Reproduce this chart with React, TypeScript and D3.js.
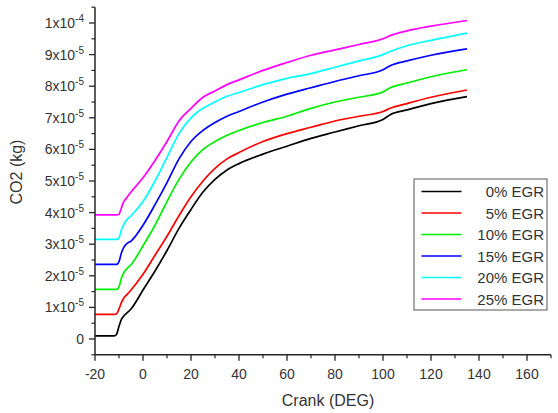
import * as d3 from 'd3';

// values in units of 1e-5 kg
const crank = [-20, -12, -11, -10, -9, -8, -7, -5, 0, 5, 10, 15, 20, 25, 30, 35, 40, 50, 60, 70, 80, 90, 100, 103, 110, 120, 135];
const egr0 = [0.1, 0.1, 0.15, 0.4, 0.62, 0.73, 0.8, 0.95, 1.55, 2.15, 2.8, 3.5, 4.1, 4.65, 5.05, 5.35, 5.55, 5.85, 6.1, 6.35, 6.55, 6.75, 6.95, 7.1, 7.25, 7.45, 7.67];
const egr5 = [0.78, 0.78, 0.8, 0.95, 1.15, 1.3, 1.38, 1.55, 2.05, 2.65, 3.25, 3.9, 4.5, 5.0, 5.4, 5.7, 5.9, 6.25, 6.5, 6.7, 6.9, 7.05, 7.2, 7.3, 7.45, 7.65, 7.88];
const egr10 = [1.57, 1.57, 1.57, 1.65, 1.92, 2.1, 2.2, 2.35, 2.95, 3.6, 4.35, 5.05, 5.6, 6.0, 6.25, 6.45, 6.6, 6.85, 7.05, 7.3, 7.5, 7.65, 7.82, 7.95, 8.1, 8.3, 8.52];
const egr15 = [2.36, 2.36, 2.36, 2.45, 2.72, 2.9, 3.0, 3.1, 3.6, 4.25, 4.95, 5.7, 6.25, 6.6, 6.85, 7.05, 7.2, 7.5, 7.75, 7.95, 8.15, 8.33, 8.52, 8.65, 8.8, 8.98, 9.18];
const egr20 = [3.15, 3.15, 3.15, 3.2, 3.45, 3.62, 3.75, 3.9, 4.35, 5.0, 5.75, 6.5, 7.0, 7.3, 7.5, 7.68, 7.8, 8.05, 8.25, 8.4, 8.6, 8.8, 9.0, 9.1, 9.28, 9.45, 9.68];
const egr25 = [3.93, 3.93, 3.93, 3.95, 4.15, 4.35, 4.45, 4.65, 5.1, 5.65, 6.25, 6.9, 7.3, 7.65, 7.85, 8.05, 8.2, 8.5, 8.75, 8.98, 9.15, 9.32, 9.5, 9.6, 9.75, 9.9, 10.08];

const seriesNames = ['0% EGR', '5% EGR', '10% EGR', '15% EGR', '20% EGR', '25% EGR'];
const seriesValues = [egr0, egr5, egr10, egr15, egr20, egr25];
const colors = ['#000000', '#ff0000', '#00ee00', '#0000ff', '#00ffff', '#ff00ff'];

const xTicks = [-20, 0, 20, 40, 60, 80, 100, 120, 140, 160];
const yTicks = [0, 1, 2, 3, 4, 5, 6, 7, 8, 9, 10];

const W = 558, H = 413;
const AXIS = '#262626';

export default function App() {
  const x = d3.scaleLinear().domain([-20, 170]).range([95, 551]);
  const y = d3.scaleLinear().domain([-0.5, 10.5]).range([354.8, 7.2]);

  const line = d3.line<[number, number]>()
    .x((d) => x(d[0]))
    .y((d) => y(d[1]))
    .curve(d3.curveMonotoneX);

  const xMinor = d3.range(-10, 171, 20);
  const yMinor = d3.range(-0.5, 10.51, 1);

  const legX = 414, legY = 179, legW = 133, legH = 131, rowH = 21.5;

  return (
    <svg width={W} height={H} style={{ position: 'absolute', left: 0, top: 0, background: '#fff' }}
      fontFamily="Liberation Sans, Arial, sans-serif">
      {seriesValues.map((vals, i) => (
        <path key={i} d={line(crank.map((c, j) => [c, vals[j]] as [number, number])) || ''}
          fill="none" stroke={colors[i]} strokeWidth={1.7} />
      ))}

      {/* axes */}
      <line x1={x(-20)} x2={x(-20)} y1={y(10.5)} y2={y(-0.5)} stroke={AXIS} strokeWidth={1.5} />
      <line x1={x(-20)} x2={x(170)} y1={y(-0.5)} y2={y(-0.5)} stroke={AXIS} strokeWidth={1.5} />

      {yTicks.map((t) => (
        <g key={t}>
          <line x1={x(-20) - 6} x2={x(-20)} y1={y(t)} y2={y(t)} stroke={AXIS} strokeWidth={1.3} />
          <text x={84} y={y(t) + 5} textAnchor="end" fontSize={14} fill="#333">
            {t === 0 ? '0' : t === 10 ? (<>1x10<tspan dy={-6} fontSize={10}>-4</tspan></>) : (<>{t}x10<tspan dy={-6} fontSize={10}>-5</tspan></>)}
          </text>
        </g>
      ))}
      {yMinor.map((t) => (
        <line key={t} x1={x(-20) - 3.5} x2={x(-20)} y1={y(t)} y2={y(t)} stroke={AXIS} strokeWidth={1.2} />
      ))}

      {xTicks.map((t) => (
        <g key={t}>
          <line x1={x(t)} x2={x(t)} y1={y(-0.5)} y2={y(-0.5) + 6} stroke={AXIS} strokeWidth={1.3} />
          <text x={x(t)} y={379} textAnchor="middle" fontSize={14} fill="#333">{t}</text>
        </g>
      ))}
      {xMinor.map((t) => (
        <line key={t} x1={x(t)} x2={x(t)} y1={y(-0.5)} y2={y(-0.5) + 3.5} stroke={AXIS} strokeWidth={1.2} />
      ))}

      <text x={328} y={406} textAnchor="middle" fontSize={16} fill="#333">Crank (DEG)</text>
      <text transform="translate(22,172) rotate(-90)" textAnchor="middle" fontSize={16} fill="#333">CO2 (kg)</text>

      {/* legend */}
      <rect x={legX} y={legY} width={legW} height={legH} fill="#fff" stroke="#555" strokeWidth={1} />
      {seriesNames.map((n, i) => (
        <g key={n}>
          <line x1={421.5} x2={461.5} y1={legY + 12.5 + i * rowH} y2={legY + 12.5 + i * rowH} stroke={colors[i]} strokeWidth={1.7} />
          <text x={544} y={legY + 18 + i * rowH} textAnchor="end" fontSize={15} fill="#333">{n}</text>
        </g>
      ))}
    </svg>
  );
}
